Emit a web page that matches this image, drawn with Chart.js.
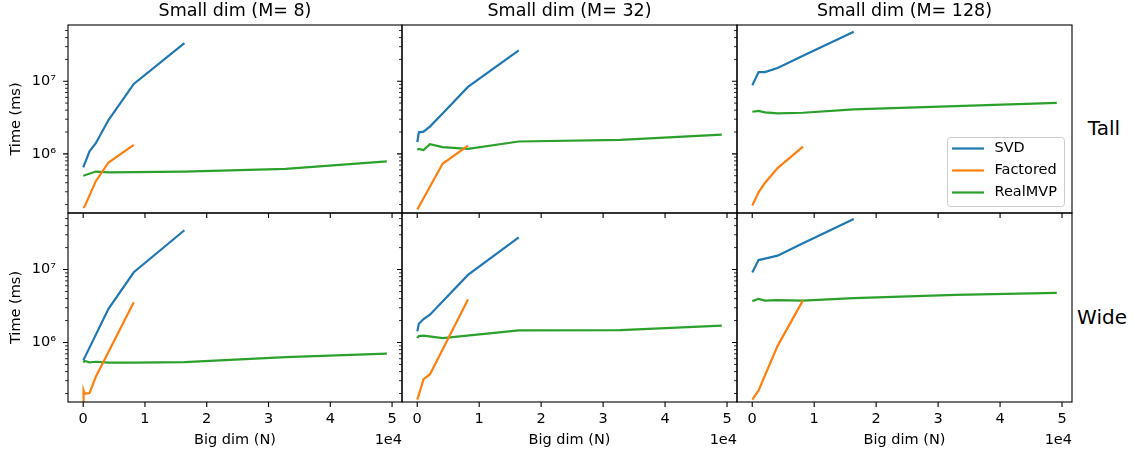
<!DOCTYPE html>
<html>
<head>
<meta charset="utf-8">
<script src="https://cdn.jsdelivr.net/npm/chart.js@4"></script>
<style>
  body { margin: 0; background: #fff; font-family: "DejaVu Sans", sans-serif; }
  #wrap { position: relative; width: 1135px; height: 453px; overflow: hidden; }
  .panel { position: absolute; }
  .rowlab { position: absolute; font-size: 20px; line-height: 1; color: #000; transform: translate(-50%, -50%); white-space: nowrap; }
</style>
</head>
<body>
<div id="wrap">
  <div class="rowlab" style="left:1104px; top:128px">Tall</div>
  <div class="rowlab" style="left:1102px; top:317px">Wide</div>
</div>
<script>
// Big dim (N) sample points
const bigDim = [16, 64, 256, 1024, 2048, 4096, 8192, 16384, 32768, 49152];
const smallDims = [8, 32, 128];
const shapes = ['Tall', 'Wide'];
const seriesNames = ['SVD', 'Factored', 'RealMVP'];
const seriesColors = ['#1f77b4', '#ff7f0e', '#2ca02c'];

// time (ms), null where there is no point
const svdTall8   = [6.5e5, null, null, 1.08e6, 1.4e6, 2.92e6, 9.2e6, 3.35e7, null, null];
const facTall8   = [1.8e5, null, 1.9e5, null, 4.2e5, 7.6e5, 1.33e6, null, null, null];
const mvpTall8   = [5.0e5, null, null, null, 5.7e5, 5.55e5, 5.6e5, 5.7e5, 6.2e5, 7.85e5];
const svdTall32  = [1.45e6, null, 1.98e6, 2.02e6, 2.37e6, 3.6e6, 8.35e6, 2.66e7, null, null];
const facTall32  = [1.71e5, null, null, null, null, 7.3e5, 1.3e6, null, null, null];
const mvpTall32  = [1.13e6, null, 1.17e6, 1.13e6, 1.36e6, 1.24e6, 1.17e6, 1.48e6, 1.56e6, 1.84e6];
const svdTall128 = [8.8e6, null, null, 1.34e7, 1.34e7, 1.52e7, 2.25e7, 4.8e7, null, null];
const facTall128 = [1.94e5, null, null, 2.95e5, 3.97e5, 6.37e5, 1.26e6, null, null, null];
const mvpTall128 = [3.8e6, null, null, 3.9e6, 3.73e6, 3.6e6, 3.68e6, 4.09e6, 4.55e6, 5.05e6];

const svdWide8   = [5.69e5, null, null, null, null, 2.89e6, 9.18e6, 3.46e7, null, null];
const facWide8   = [1.45e5, 2.21e5, 1.99e5, 2.03e5, 3.39e5, null, 3.57e6, null, null, null];
const mvpWide8   = [5.34e5, null, 5.6e5, 5.35e5, 5.45e5, 5.3e5, 5.3e5, 5.37e5, 6.3e5, 7.05e5];
const svdWide32  = [1.42e6, null, 1.81e6, 2.1e6, 2.41e6, null, 8.44e6, 2.77e7, null, null];
const facWide32  = [1.65e5, null, null, 3.14e5, 3.65e5, null, 3.88e6, null, null, null];
const mvpWide32  = [1.15e6, null, 1.23e6, 1.24e6, null, 1.15e6, null, 1.47e6, 1.48e6, 1.7e6];
const svdWide128 = [9.1e6, null, null, 1.35e7, 1.41e7, 1.55e7, 2.3e7, 4.95e7, null, null];
const facWide128 = [1.65e5, null, null, 2.2e5, null, 9.0e5, 3.78e6, null, null, null];
const mvpWide128 = [3.69e6, null, null, 3.97e6, 3.76e6, 3.8e6, 3.76e6, 4.06e6, 4.5e6, 4.8e6];

const xTickValues = [0, 10000, 20000, 30000, 40000, 50000];
const yMajorTicks = [1e6, 1e7];
const yMinorTicks = [2e5, 3e5, 4e5, 5e5, 6e5, 7e5, 8e5, 9e5,
                     2e6, 3e6, 4e6, 5e6, 6e6, 7e6, 8e6, 9e6,
                     2e7, 3e7, 4e7, 5e7];

const panels = {
  Tall: [[svdTall8, facTall8, mvpTall8], [svdTall32, facTall32, mvpTall32], [svdTall128, facTall128, mvpTall128]],
  Wide: [[svdWide8, facWide8, mvpWide8], [svdWide32, facWide32, mvpWide32], [svdWide128, facWide128, mvpWide128]]
};

// axis limits
const xMin = -2458, xMax = 51610;
const yMin = 1.53e5, yMax = 5.96e7;

// plot area positions on the page
const colLeft = [68, 402, 737];
const colRight = [402, 737, 1072];
const rowTop = [25, 213];
const rowBottom = [213, 402];

Chart.defaults.font.family = '"DejaVu Sans"';
Chart.defaults.color = '#000';

const supDigits = {'0':'⁰','1':'¹','2':'²','3':'³','4':'⁴','5':'⁵','6':'⁶','7':'⁷','8':'⁸','9':'⁹'};
const powLabel = v => '10' + String(Math.round(Math.log10(v))).split('').map(d => supDigits[d]).join('');

// spines, tick marks, legend box and offset text
const frame = {
  id: 'frame',
  afterDatasetsDraw(chart, args, opts) {
    const {ctx, chartArea: a, scales} = chart;
    ctx.save();
    ctx.strokeStyle = '#000';
    ctx.lineWidth = 1.1;
    ctx.beginPath();
    yMajorTicks.forEach(v => {
      const p = scales.y.getPixelForValue(v);
      ctx.moveTo(a.left, p); ctx.lineTo(a.left - 5, p);
    });
    xTickValues.forEach(v => {
      const p = scales.x.getPixelForValue(v);
      ctx.moveTo(p, a.bottom); ctx.lineTo(p, a.bottom + 5);
    });
    ctx.stroke();
    ctx.lineWidth = 0.8;
    ctx.beginPath();
    yMinorTicks.forEach(v => {
      const p = scales.y.getPixelForValue(v);
      if (p < a.top || p > a.bottom) return;
      ctx.moveTo(a.left, p); ctx.lineTo(a.left - 3, p);
    });
    ctx.stroke();
    ctx.lineWidth = 1.1;
    ctx.strokeRect(a.left, a.top, a.right - a.left, a.bottom - a.top);

    if (opts.offsetText) {
      ctx.font = '14.5px "DejaVu Sans"';
      ctx.fillStyle = '#000';
      ctx.textAlign = 'right';
      ctx.textBaseline = 'middle';
      ctx.fillText('1e4', a.right, a.bottom + 38);
    }

    if (opts.legend) {
      const w = 117, h = 69;
      const x0 = a.right - 8 - w, y0 = a.bottom - 7 - h;
      ctx.fillStyle = 'rgba(255,255,255,0.8)';
      ctx.strokeStyle = '#cccccc';
      ctx.lineWidth = 1;
      ctx.beginPath();
      ctx.roundRect(x0 + 0.5, y0 + 0.5, w, h, 3);
      ctx.fill();
      ctx.stroke();
      ctx.font = '14.5px "DejaVu Sans"';
      ctx.textAlign = 'left';
      ctx.textBaseline = 'middle';
      chart.data.datasets.forEach((ds, i) => {
        const y = y0 + 11.5 + i * 22;
        ctx.strokeStyle = ds.borderColor;
        ctx.lineWidth = 2.2;
        ctx.beginPath();
        ctx.moveTo(x0 + 5, y); ctx.lineTo(x0 + 37, y);
        ctx.stroke();
        ctx.fillStyle = '#000';
        ctx.fillText(ds.label, x0 + 47.5, y);
      });
    }
    ctx.restore();
  }
};
Chart.register(frame);

const wrap = document.getElementById('wrap');

shapes.forEach((shape, r) => {
  smallDims.forEach((m, c) => {
    const yW = c === 0 ? 68 : 6;
    const padRight = 3;
    const padTop = r === 0 ? 0 : 14;
    const xH = r === 0 ? 14 : 51;
    const titleH = r === 0 ? 25 : 0;

    const left = colLeft[c] - yW;
    const top = rowTop[r] - padTop - titleH;
    const width = colRight[c] - colLeft[c] + yW + padRight;
    const height = rowBottom[r] - rowTop[r] + padTop + titleH + xH;

    const box = document.createElement('div');
    box.className = 'panel';
    box.style.left = left + 'px';
    box.style.top = top + 'px';
    box.style.width = width + 'px';
    box.style.height = height + 'px';
    const canvas = document.createElement('canvas');
    box.appendChild(canvas);
    wrap.appendChild(box);

    const datasets = panels[shape][c].map((vals, i) => ({
      label: seriesNames[i],
      data: bigDim.map((n, k) => ({x: n, y: vals[k]})).filter(p => p.y !== null),
      borderColor: seriesColors[i],
      backgroundColor: seriesColors[i],
      borderWidth: 2.2,
      pointRadius: 0,
      tension: 0,
      clip: 0
    }));

    new Chart(canvas, {
      type: 'line',
      data: {datasets},
      options: {
        animation: false,
        responsive: true,
        maintainAspectRatio: false,
        layout: {padding: {top: padTop, right: padRight, left: 0, bottom: 0}},
        plugins: {
          legend: {display: false},
          tooltip: {enabled: false},
          title: {
            display: r === 0,
            text: 'Small dim (M= ' + m + ')',
            fullSize: false,
            font: {size: 17.5, weight: 'normal'},
            padding: {top: 1, bottom: 3},
            color: '#000'
          },
          frame: {legend: r === 0 && c === 2, offsetText: r === 1}
        },
        scales: {
          x: {
            type: 'linear',
            min: xMin,
            max: xMax,
            afterBuildTicks: s => { s.ticks = xTickValues.map(v => ({value: v})); },
            afterFit: s => { s.height = xH; },
            grid: {display: false},
            border: {display: false},
            ticks: {
              display: r === 1,
              padding: 1,
              maxRotation: 0,
              autoSkip: false,
              font: {size: 14.5},
              callback: v => String(v / 10000)
            },
            title: {
              display: r === 1,
              text: 'Big dim (N)',
              font: {size: 14.5},
              padding: {top: 0, bottom: 4.3}
            }
          },
          y: {
            type: 'logarithmic',
            min: yMin,
            max: yMax,
            afterBuildTicks: s => { s.ticks = yMajorTicks.map(v => ({value: v, major: true})); },
            afterFit: s => { s.width = yW; },
            grid: {display: false},
            border: {display: false},
            ticks: {
              display: c === 0,
              padding: 4,
              autoSkip: false,
              font: {size: 14.5},
              callback: v => powLabel(v)
            },
            title: {
              display: c === 0,
              text: 'Time (ms)',
              font: {size: 14.5},
              padding: {top: 8, bottom: 0}
            }
          }
        }
      }
    });
  });
});
</script>
</body>
</html>
